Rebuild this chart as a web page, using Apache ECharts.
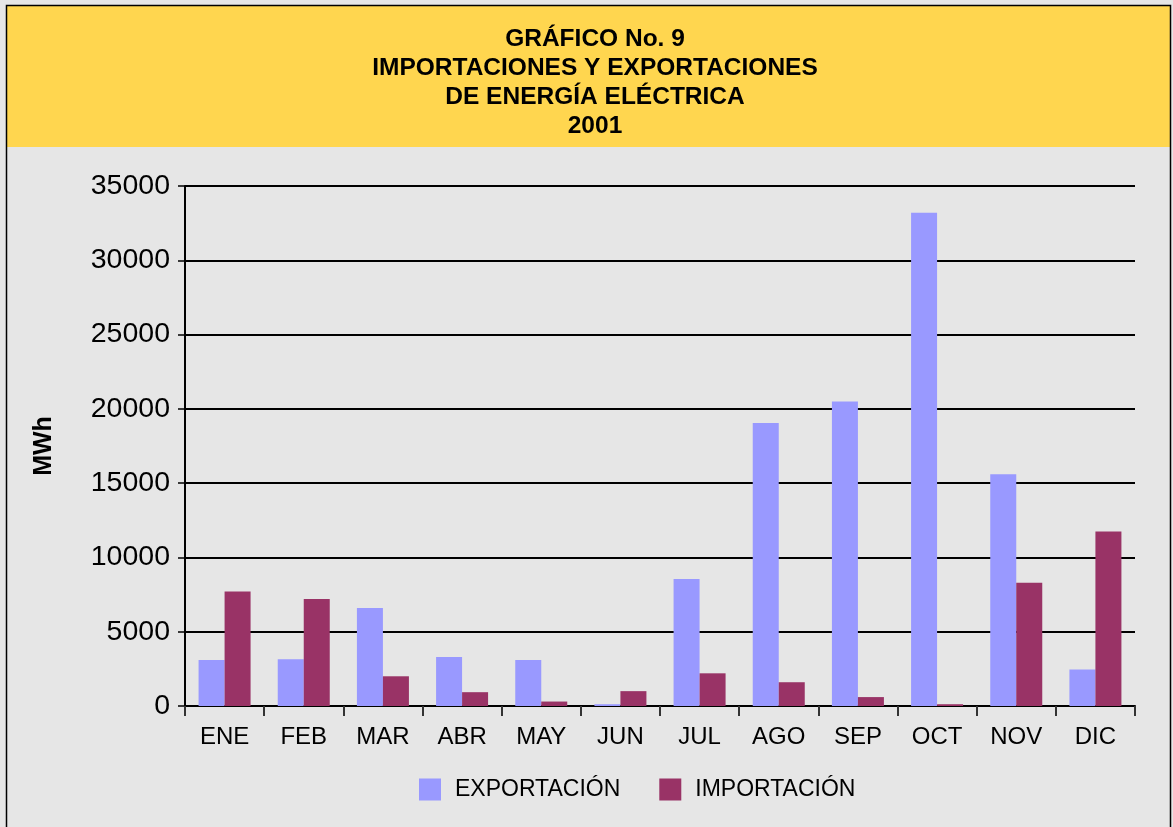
<!DOCTYPE html>
<html>
<head>
<meta charset="utf-8">
<script src="https://cdn.jsdelivr.net/npm/echarts@6/dist/echarts.min.js"></script>
<style>
  html, body { margin: 0; padding: 0; background: #e6e6e6; }
  #chart { width: 1173px; height: 827px; }
</style>
</head>
<body>
<div id="chart"></div>
<script>
const months = ['ENE', 'FEB', 'MAR', 'ABR', 'MAY', 'JUN', 'JUL', 'AGO', 'SEP', 'OCT', 'NOV', 'DIC']
const exportacion = [3100, 3150, 6600, 3300, 3100, 120, 8550, 19050, 20500, 33200, 15600, 2450]
const importacion = [7700, 7200, 2000, 930, 300, 1000, 2200, 1600, 600, 120, 8300, 11750]
const yTicks = [0, 5000, 10000, 15000, 20000, 25000, 30000, 35000]

const chart = echarts.init(document.getElementById('chart'))

const font = '"Liberation Sans", Arial, Helvetica, sans-serif'

const option = {
  backgroundColor: '#e6e6e6',
  animation: false,
  graphic: [
    {
      type: 'rect',
      shape: { x: 7, y: 6, width: 1163, height: 141 },
      style: { fill: '#ffd64f' },
      z: -1
    },
    {
      type: 'rect',
      shape: { x: 6.5, y: 5.5, width: 1164, height: 840 },
      style: { fill: 'none', stroke: '#000', lineWidth: 1.5 },
      z: 10
    }
  ],
  title: {
    text: 'GRÁFICO No. 9\nIMPORTACIONES Y EXPORTACIONES\nDE ENERGÍA ELÉCTRICA\n2001',
    left: 590,
    top: 20,
    textAlign: 'center',
    textStyle: {
      fontFamily: font,
      fontSize: 24.5,
      fontWeight: 'bold',
      color: '#000',
      lineHeight: 29
    }
  },
  legend: {
    data: ['EXPORTACIÓN', 'IMPORTACIÓN'],
    left: 419,
    top: 778,
    padding: 0,
    itemWidth: 22,
    itemHeight: 22,
    itemGap: 39,
    icon: 'rect',
    textStyle: {
      fontFamily: font,
      fontSize: 23,
      color: '#000',
      padding: [0, 0, 0, 9]
    }
  },
  grid: {
    left: 185,
    right: 38,
    top: 186,
    bottom: 121
  },
  xAxis: {
    type: 'category',
    data: months,
    axisLine: { lineStyle: { color: '#000', width: 2 } },
    axisTick: { show: true, alignWithLabel: false, length: 10, lineStyle: { color: '#333', width: 2 } },
    axisLabel: {
      fontFamily: font,
      fontSize: 24,
      color: '#000',
      margin: 19
    }
  },
  yAxis: {
    type: 'value',
    min: yTicks[0],
    max: yTicks[yTicks.length - 1],
    interval: 5000,
    name: 'MWh',
    nameLocation: 'middle',
    nameGap: 128,
    nameRotate: 90,
    nameTextStyle: {
      fontFamily: font,
      fontSize: 25,
      fontWeight: 'bold',
      color: '#000'
    },
    axisLine: { show: true, lineStyle: { color: '#000', width: 2 } },
    axisTick: { show: true, length: 7, lineStyle: { color: '#000', width: 1.5 } },
    axisLabel: {
      fontFamily: font,
      fontSize: 28.5,
      color: '#000',
      margin: 15,
      formatter: (v) => String(v)
    },
    splitLine: { lineStyle: { color: '#000', width: 2 } }
  },
  series: [
    {
      name: 'EXPORTACIÓN',
      type: 'bar',
      data: exportacion,
      barWidth: 26,
      barGap: '0%',
      itemStyle: { color: '#9999ff' }
    },
    {
      name: 'IMPORTACIÓN',
      type: 'bar',
      data: importacion,
      barWidth: 26,
      itemStyle: { color: '#993366' }
    }
  ]
}

chart.setOption(option)
</script>
</body>
</html>
